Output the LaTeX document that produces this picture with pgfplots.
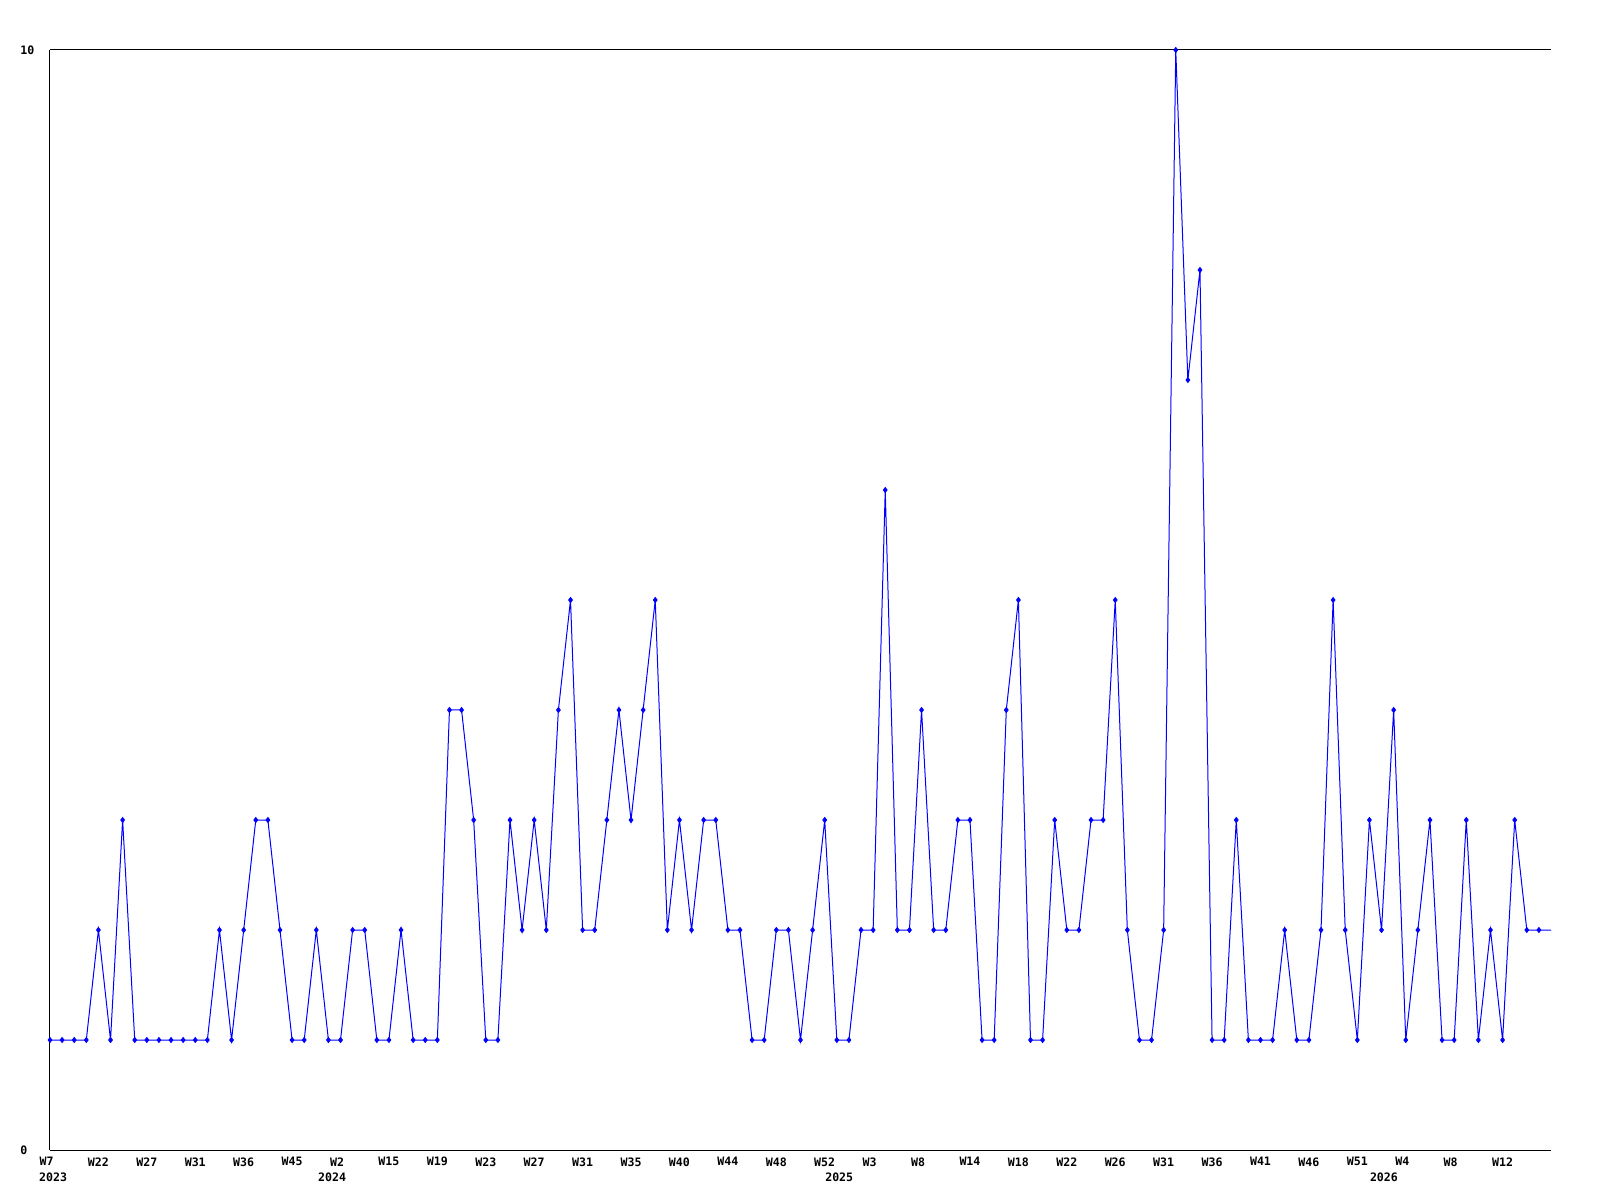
\documentclass[border=0pt]{standalone}
\usepackage{pgfplots}
\pgfplotsset{compat=1.18}
\usepackage{pgfplotstable}
\usepackage{fontspec}
\setmonofont{DejaVu Sans Mono}
\pgfplotstableread{
idx val
0 1
1 1
2 1
3 1
4 2
5 1
6 3
7 1
8 1
9 1
10 1
11 1
12 1
13 1
14 2
15 1
16 2
17 3
18 3
19 2
20 1
21 1
22 2
23 1
24 1
25 2
26 2
27 1
28 1
29 2
30 1
31 1
32 1
33 4
34 4
35 3
36 1
37 1
38 3
39 2
40 3
41 2
42 4
43 5
44 2
45 2
46 3
47 4
48 3
49 4
50 5
51 2
52 3
53 2
54 3
55 3
56 2
57 2
58 1
59 1
60 2
61 2
62 1
63 2
64 3
65 1
66 1
67 2
68 2
69 6
70 2
71 2
72 4
73 2
74 2
75 3
76 3
77 1
78 1
79 4
80 5
81 1
82 1
83 3
84 2
85 2
86 3
87 3
88 5
89 2
90 1
91 1
92 2
93 10
94 7
95 8
96 1
97 1
98 3
99 1
100 1
101 1
102 2
103 1
104 1
105 2
106 5
107 2
108 1
109 3
110 2
111 4
112 1
113 2
114 3
115 1
116 1
117 3
118 1
119 2
120 1
121 3
122 2
123 2
124 2
}\datatable

\begin{document}
\begin{tikzpicture}
\path[use as bounding box] (-25pt,-25pt) rectangle (775pt,575pt);
\begin{axis}[
  at={(0,0)}, anchor=south west,
  width=750.5pt, height=550pt, scale only axis,
  xmin=0, xmax=124, ymin=0, ymax=10,
  axis x line=box, axis y line=left,
  axis line style={-, line width=0.5pt, black},
  xtick={0,4,...,120},
  xticklabels={W7\hphantom{0},W22,W27,W31,W36,W45,W2\hphantom{0},W15,W19,W23,W27,W31,W35,W40,W44,W48,W52,W3\hphantom{0},W8\hphantom{0},W14,W18,W22,W26,W31,W36,W41,W46,W51,W4\hphantom{0},W8\hphantom{0},W12},
  ytick={0,10}, yticklabels={0,10},
  major tick length=0pt,
  tick label style={font=\ttfamily\bfseries\fontsize{5.8}{7}\selectfont, inner sep=0pt},
  xticklabel style={anchor=north, yshift=-3.5pt},
  yticklabel style={anchor=west, xshift=-15pt},
  extra x ticks={0.25,23.3,65.2,110.2},
  extra x tick labels={2023,2024,2025,2026},
  extra x tick style={xticklabel style={yshift=-7.8pt}},
]
\addplot[blue, line width=0.5pt, no markers] table[x=idx,y=val]{\datatable};
\addplot[blue, line width=0.5pt, only marks, mark=diamond*, mark size=1.2pt, restrict x to domain=0:123] table[x=idx,y=val]{\datatable};
\end{axis}
\end{tikzpicture}
\end{document}
